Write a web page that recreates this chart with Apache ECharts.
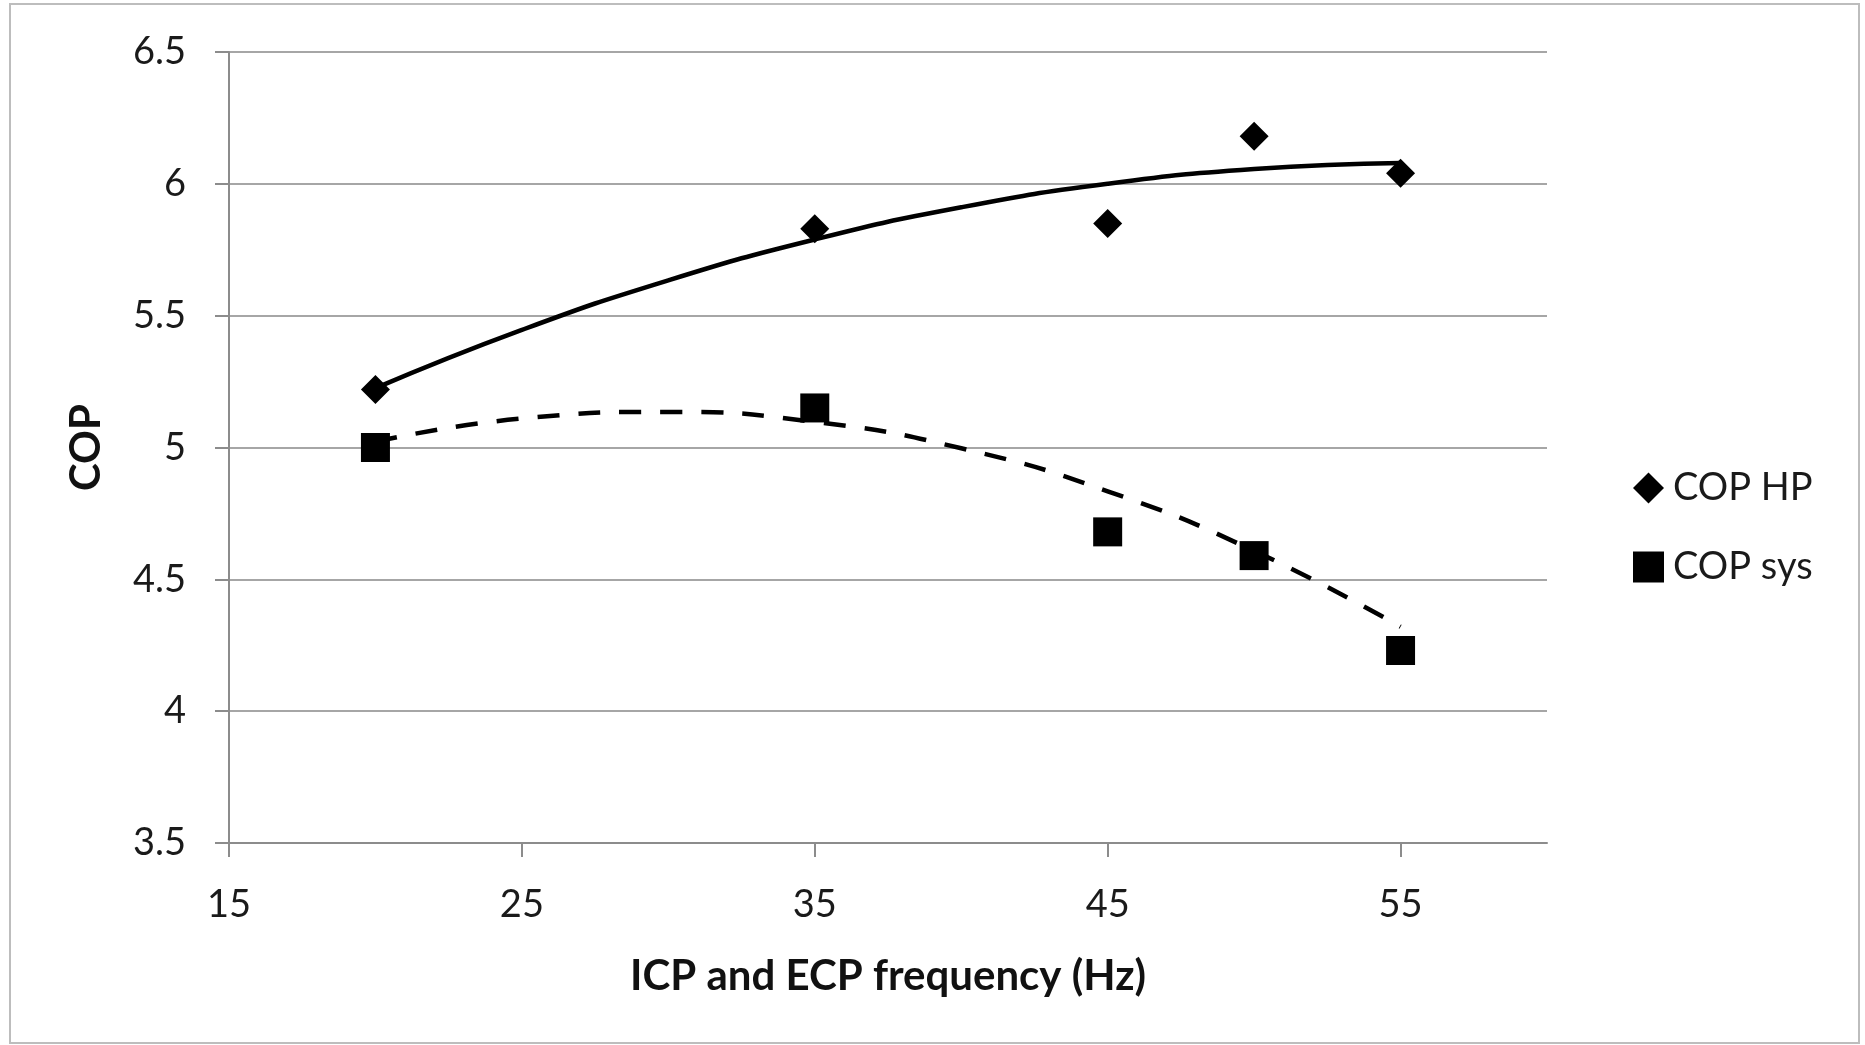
<!DOCTYPE html>
<html>
<head>
<meta charset="utf-8">
<script src="https://cdn.jsdelivr.net/npm/echarts@6/dist/echarts.min.js"></script>
<style>
html,body{margin:0;padding:0;background:#fff;}
#chart{width:1865px;height:1045px;}
</style>
</head>
<body>
<div id="chart"></div>
<script>
// Data
const freqHz = [20, 35, 45, 50, 55];
const copHP = [5.22, 5.83, 5.85, 6.18, 6.04];
const copSys = [5.00, 5.15, 4.68, 4.59, 4.23];
// Trendline values
const trendX = [20, 25, 30, 35, 40, 45, 50, 55];
const trendHP = [5.225, 5.446, 5.634, 5.789, 5.911, 6.000, 6.056, 6.079];
const trendSys = [5.022, 5.110, 5.135, 5.097, 4.997, 4.834, 4.608, 4.320];
const yTicks = ['3.5','4','4.5','5','5.5','6','6.5'];
const xTicks = ['15','25','35','45','55'];

const FONT = 'Lato, "Noto Sans", sans-serif';
const pairs = (xs, ys) => xs.map((x, i) => [x, ys[i]]);

const chart = echarts.init(document.getElementById('chart'));
chart.setOption({
  animation: false,
  backgroundColor: '#fff',
  grid: { left: 229, right: 318, top: 52, bottom: 202, containLabel: false },
  graphic: [{
    type: 'rect', shape: { x: 10, y: 4, width: 1849, height: 1039 },
    style: { fill: 'none', stroke: '#bdbdbd', lineWidth: 2 }, silent: true, z: -1
  }],
  legend: {
    orient: 'vertical', left: 1628, top: 463,
    itemWidth: 31, itemHeight: 31, itemGap: 39,
    textStyle: { fontFamily: FONT, fontSize: 38, color: '#1a1a1a', lineHeight: 40, padding: [0, 0, 0, 4] },
    data: [
      { name: 'COP HP', icon: 'diamond' },
      { name: 'COP sys', icon: 'rect' }
    ]
  },
  xAxis: {
    type: 'value', min: 15, max: 60, interval: 10,
    name: 'ICP and ECP frequency (Hz)', nameLocation: 'middle', nameGap: 112,
    nameTextStyle: { fontFamily: FONT, fontSize: 42, fontWeight: 'bold', color: '#111' },
    axisLine: { show: true, lineStyle: { color: '#8c8c8c', width: 2 } },
    axisTick: { show: true, length: 14, lineStyle: { color: '#8c8c8c', width: 2 } },
    axisLabel: { fontFamily: FONT, fontSize: 38, color: '#1a1a1a', margin: 43, showMaxLabel: false,
      formatter: v => xTicks.includes(String(v)) ? String(v) : '' },
    splitLine: { show: false }
  },
  yAxis: {
    type: 'value', min: 3.5, max: 6.5, interval: 0.5,
    name: 'COP', nameLocation: 'middle', nameGap: 122, nameRotate: 90,
    nameTextStyle: { fontFamily: FONT, fontSize: 42, fontWeight: 'bold', color: '#111' },
    axisLine: { show: true, lineStyle: { color: '#8c8c8c', width: 2 } },
    axisTick: { show: true, length: 14, lineStyle: { color: '#8c8c8c', width: 2 } },
    axisLabel: { fontFamily: FONT, fontSize: 38, color: '#1a1a1a', margin: 43,
      formatter: v => { const s = String(+v.toFixed(1)); return yTicks.includes(s) ? s : ''; } },
    splitLine: { show: true, lineStyle: { color: '#a6a6a6', width: 2 } }
  },
  series: [
    { name: 'COP HP trend', type: 'line', data: pairs(trendX, trendHP), smooth: true,
      showSymbol: false, symbol: 'none', lineStyle: { color: '#000', width: 4.5 }, z: 2, silent: true },
    { name: 'COP sys trend', type: 'line', data: pairs(trendX, trendSys), smooth: true,
      showSymbol: false, symbol: 'none', lineStyle: { color: '#000', width: 4.5, type: [22, 19] }, z: 2, silent: true },
    { name: 'COP HP', type: 'scatter', data: pairs(freqHz, copHP), symbol: 'diamond', symbolSize: 29,
      itemStyle: { color: '#000', opacity: 1 }, z: 3 },
    { name: 'COP sys', type: 'scatter', data: pairs(freqHz, copSys), symbol: 'rect', symbolSize: 29,
      itemStyle: { color: '#000', opacity: 1 }, z: 3 }
  ]
});
</script>
</body>
</html>
